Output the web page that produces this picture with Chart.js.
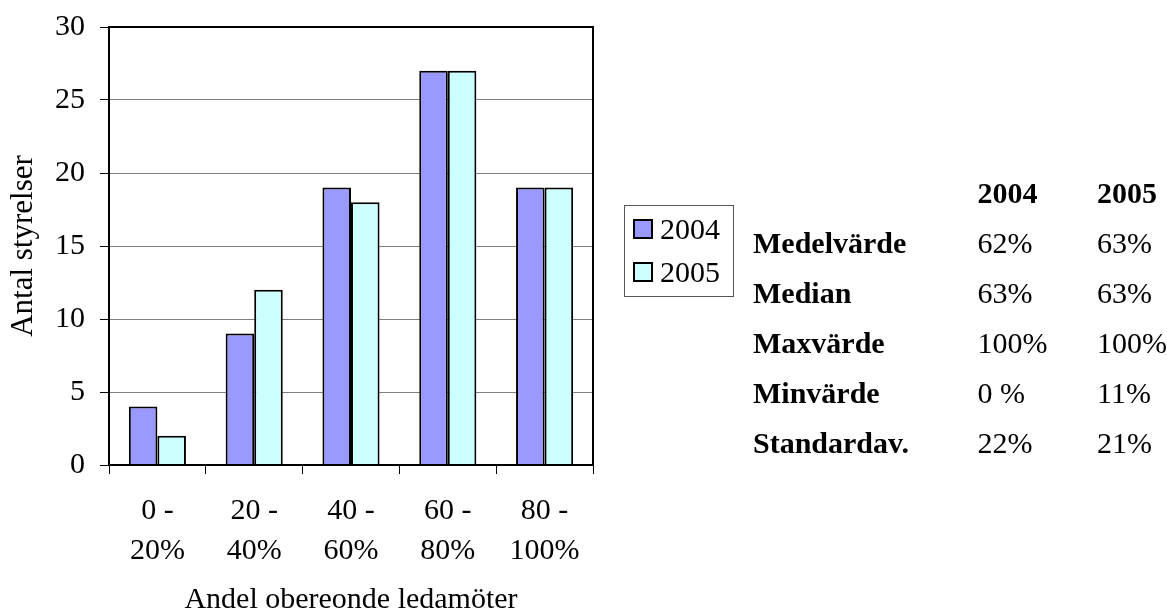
<!DOCTYPE html>
<html>
<head>
<meta charset="utf-8">
<script src="https://cdn.jsdelivr.net/npm/chart.js@4"></script>
<style>
    body { margin: 0; background: #fff; }
    #wrap { position: relative; width: 1167px; height: 613px; }
    #stats {
        position: absolute; left: 753px; top: 168px;
        border-collapse: collapse;
        font-family: "Liberation Serif", "Times New Roman", serif;
        font-size: 30px; color: #000;
    }
    #stats td { padding: 0; height: 50px; line-height: 50px; white-space: nowrap; }
    #stats td.lab { width: 225px; font-weight: bold; }
    #stats td.v1 { width: 120px; }
    #stats tr.head td { font-weight: bold; }
</style>
</head>
<body>
<div id="wrap">
    <canvas id="myChart" width="1167" height="613"></canvas>
    <table id="stats"></table>
</div>
<script>
// chart data
let categories = [['0 -', '20%'], ['20 -', '40%'], ['40 -', '60%'], ['60 -', '80%'], ['80 -', '100%']];
let seriesNames = ['2004', '2005'];
let values2004 = [4, 9, 19, 27, 19];
let values2005 = [2, 12, 18, 27, 19];
let yMin = 0;
let yMax = 30;
let yStep = 5;

// stats table
let statLabels = ['Medelvärde', 'Median', 'Maxvärde', 'Minvärde', 'Standardav.'];
let stats2004 = ['62%', '63%', '100%', '0 %', '22%'];
let stats2005 = ['63%', '63%', '100%', '11%', '21%'];

let serif = '"Liberation Serif", "Times New Roman", serif';
Chart.defaults.font.family = serif;
Chart.defaults.color = '#000';

// build the table next to the chart
let table = document.getElementById('stats');
let html = '<tr class="head"><td class="lab"></td><td class="v1">' + seriesNames[0] + '</td><td>' + seriesNames[1] + '</td></tr>';
statLabels.forEach((lab, i) => {
    html += '<tr><td class="lab">' + lab + '</td><td class="v1">' + stats2004[i] + '</td><td>' + stats2005[i] + '</td></tr>';
});
table.innerHTML = html;

// frame around the plot area + boxed legend
let framePlugin = {
    id: 'frame',
    afterDatasetsDraw(chart) {
        let ctx = chart.ctx;
        let a = chart.chartArea;
        ctx.save();
        ctx.strokeStyle = '#000';
        ctx.lineWidth = 2;
        ctx.strokeRect(a.left, a.top, a.right - a.left, a.bottom - a.top);
        ctx.restore();
    },
    afterDraw(chart) {
        let ctx = chart.ctx;
        let a = chart.chartArea;
        let lx = a.right + 31;
        let ly = 205;
        ctx.save();
        ctx.strokeStyle = '#555';
        ctx.lineWidth = 1;
        ctx.strokeRect(lx + 0.5, ly + 0.5, 109, 91);
        ctx.font = '30px ' + serif;
        ctx.textBaseline = 'alphabetic';
        ctx.textAlign = 'left';
        chart.data.datasets.forEach((ds, i) => {
            let y = ly + 15 + i * 43;
            ctx.fillStyle = ds.backgroundColor;
            ctx.fillRect(lx + 10, y, 18, 18);
            ctx.strokeStyle = '#000';
            ctx.lineWidth = 2;
            ctx.strokeRect(lx + 10, y, 18, 18);
            ctx.fillStyle = '#000';
            ctx.fillText(ds.label, lx + 36, y + 19);
        });
        ctx.restore();
    }
};

let myChart = document.getElementById('myChart').getContext('2d');

let chart1 = new Chart(myChart, {
    type: 'bar',
    data: {
        labels: categories,
        datasets: [{
            label: seriesNames[0],
            data: values2004,
            backgroundColor: '#9999FF',
            borderColor: '#000',
            borderWidth: 2,
        }, {
            label: seriesNames[1],
            data: values2005,
            backgroundColor: '#CCFFFF',
            borderColor: '#000',
            borderWidth: 2,
        }]
    },
    options: {
        responsive: false,
        animation: false,
        categoryPercentage: 0.59,
        barPercentage: 1,
        layout: {
            padding: { left: 0, right: 574, top: 27, bottom: 0 }
        },
        plugins: {
            legend: { display: false },
            tooltip: { enabled: false },
        },
        scales: {
            x: {
                grid: { drawOnChartArea: false, tickLength: 9, color: '#000', offset: true },
                border: { color: '#000', width: 2 },
                ticks: {
                    font: { size: 30, lineHeight: 1.333 },
                    padding: 17,
                    maxRotation: 0,
                },
                title: {
                    display: true,
                    text: 'Andel obereonde ledamöter',
                    font: { size: 30, lineHeight: 1 },
                    padding: { top: 0, bottom: -2 },
                },
                afterFit(scale) { scale.height = 148; },
            },
            y: {
                min: yMin,
                max: yMax,
                ticks: {
                    stepSize: yStep,
                    // small line height keeps the top label from pushing the plot down
                    font: { size: 30, lineHeight: 0.8 },
                    padding: 15,
                },
                grid: { color: '#808080', tickColor: '#000', tickLength: 9 },
                border: { color: '#000', width: 2 },
                title: {
                    display: true,
                    text: 'Antal styrelser',
                    font: { size: 31, lineHeight: 1.2 },
                    padding: { top: 5, bottom: 0 },
                },
                afterFit(scale) { scale.width = 109; },
            }
        }
    },
    plugins: [framePlugin]
});
</script>
</body>
</html>
